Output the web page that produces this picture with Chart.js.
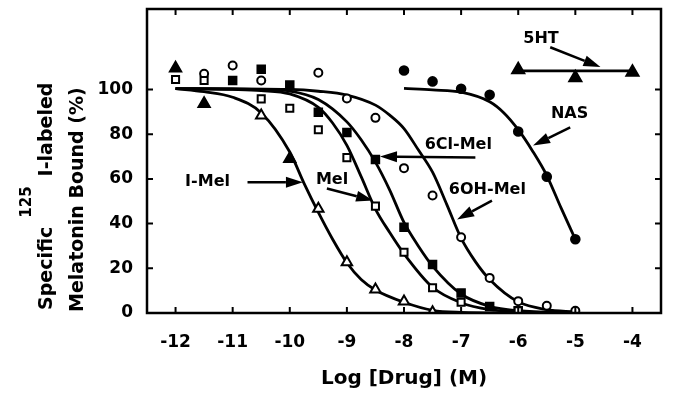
<!DOCTYPE html>
<html>
<head>
<meta charset="utf-8">
<script src="https://cdn.jsdelivr.net/npm/chart.js@4.4.0/dist/chart.umd.min.js"></script>
<style>
  html, body { margin: 0; padding: 0; background: #fff; }
  #wrap { width: 674px; height: 398px; }
</style>
</head>
<body>
<div id="wrap"><canvas id="chart"></canvas></div>
<script>
// x ticks (log molar) and y ticks (% bound)
const xTicks = [-12, -11, -10, -9, -8, -7, -6, -5, -4];
const yTicks = [0, 20, 40, 60, 80, 100];

// fitted curves
const iMelCurveX = [-12, -11.5, -11, -10.5, -10, -9.75, -9.5, -9.25, -9, -8.75, -8.5, -8, -7.5, -7, -6];
const iMelCurveY = [100.4, 99, 96.5, 89.5, 72, 58, 45, 33, 22.5, 15, 10.3, 4.8, 1.2, 0.3, 0];
const melCurveX = [-12, -11, -10.5, -10, -9.5, -9.25, -9, -8.75, -8.5, -8.25, -8, -7.5, -7, -6.5, -6, -5];
const melCurveY = [100.4, 100, 99.5, 98, 92, 85, 75, 61, 46.5, 36, 26.5, 11.5, 4.6, 1.5, 0.5, 0];
const clMelCurveX = [-12, -11, -10.5, -10, -9.5, -9, -8.75, -8.5, -8.25, -8, -7.75, -7.5, -7, -6.5, -6, -5];
const clMelCurveY = [100.4, 100.2, 100, 99.3, 95.5, 85.5, 77.5, 67.5, 55, 40.5, 30, 21, 8.5, 3, 1, 0];
const ohMelCurveX = [-12, -10, -9.5, -9, -8.5, -8.25, -8, -7.75, -7.5, -7.25, -7, -6.75, -6.5, -6, -5.5, -5];
const ohMelCurveY = [100.4, 100, 99.2, 97.5, 93, 88.5, 82.5, 73, 63, 48.5, 33.5, 23, 15, 5, 1.5, 0.5];
const nasCurveX = [-8, -7.5, -7, -6.5, -6.25, -6, -5.75, -5.5, -5.25, -5];
const nasCurveY = [100.5, 99.8, 98.8, 94.5, 89.5, 82, 72.5, 61.5, 47, 33];
const htCurveX = [-6, -4];
const htCurveY = [108.3, 108.3];

// measured points
const iMelOpenX = [-10.5, -9.5, -9, -8.5, -8, -7.5];
const iMelOpenY = [88.4, 46.6, 22.7, 10.5, 5.2, 0.3];
const iMelFilledX = [-12, -11.5, -10];
const iMelFilledY = [109.5, 93.6, 69];
const melX = [-12, -11.5, -10.5, -10, -9.5, -9, -8.5, -8, -7.5, -7, -6];
const melY = [104.5, 104, 95.8, 91.6, 82, 69.5, 47.8, 27.2, 11.3, 4.8, 1];
const clMelX = [-11, -10.5, -10, -9.5, -9, -8.5, -8, -7.5, -7, -6.5, -6];
const clMelY = [104, 109, 102, 89.8, 80.7, 68.7, 38.4, 21.7, 8.9, 2.9, 1];
const ohMelX = [-11.5, -11, -10.5, -9.5, -9, -8.5, -8, -7.5, -7, -6.5, -6, -5.5, -5];
const ohMelY = [107, 110.7, 104, 107.5, 96, 87.3, 64.8, 52.6, 33.9, 15.7, 5.3, 3.2, 1];
const nasX = [-8, -7.5, -7, -6.5, -6, -5.5, -5];
const nasY = [108.5, 103.6, 100.3, 97.6, 81.2, 61, 33];
const htX = [-6, -5, -4];
const htY = [108.8, 105.2, 107.7];

// labels with arrows (data units)
const noteText = ['I-Mel', 'Mel', '6Cl-Mel', '6OH-Mel', 'NAS', '5HT'];
const noteX = [-11.44, -9.26, -7.05, -6.54, -5.1, -5.6];
const noteY = [58.8, 59.5, 75.4, 55.2, 89.2, 122.8];
const arrowFromX = [-10.74, -9.35, -6.75, -6.46, -5.09, -5.44];
const arrowFromY = [58.5, 55.7, 69.6, 50.3, 83, 118.9];
const arrowToX = [-9.77, -8.54, -8.42, -7.07, -5.74, -4.56];
const arrowToY = [58.5, 50.3, 70.0, 41.8, 74.9, 110];

const FONT = 'DejaVu Sans';
const pts = (xs, ys) => xs.map((x, i) => ({ x: x, y: ys[i] }));

function marks(label, xs, ys, style, radius, fill) {
  return {
    label: label,
    data: pts(xs, ys),
    showLine: false,
    pointStyle: style,
    pointRadius: radius,
    pointBackgroundColor: fill,
    pointBorderColor: '#000',
    pointBorderWidth: 2,
  };
}

function curve(label, xs, ys) {
  return {
    label: label,
    data: pts(xs, ys),
    showLine: true,
    borderColor: '#000',
    borderWidth: 2.8,
    pointRadius: 0,
    cubicInterpolationMode: 'monotone',
  };
}

// box frame with inward ticks on all sides
const frame = {
  id: 'frame',
  afterDraw(chart) {
    const { ctx, chartArea: a, scales: { x, y } } = chart;
    ctx.save();
    ctx.strokeStyle = '#000';
    ctx.lineWidth = 2.5;
    ctx.strokeRect(a.left, a.top, a.right - a.left, a.bottom - a.top);
    ctx.lineWidth = 2;
    ctx.beginPath();
    x.ticks.forEach(t => {
      const px = x.getPixelForValue(t.value);
      ctx.moveTo(px, a.bottom); ctx.lineTo(px, a.bottom - 6);
      ctx.moveTo(px, a.top); ctx.lineTo(px, a.top + 6);
    });
    y.ticks.forEach(t => {
      const py = y.getPixelForValue(t.value);
      ctx.moveTo(a.left, py); ctx.lineTo(a.left + 6, py);
      ctx.moveTo(a.right, py); ctx.lineTo(a.right - 6, py);
    });
    ctx.stroke();
    ctx.restore();
  }
};

// curve labels and arrows
const notes = {
  id: 'notes',
  afterDraw(chart) {
    const { ctx, scales: { x, y } } = chart;
    ctx.save();
    ctx.fillStyle = '#000';
    ctx.strokeStyle = '#000';
    ctx.font = 'bold 16px "' + FONT + '"';
    ctx.textAlign = 'center';
    ctx.textBaseline = 'middle';
    noteText.forEach((txt, i) => {
      ctx.fillText(txt, x.getPixelForValue(noteX[i]), y.getPixelForValue(noteY[i]));
      const x0 = x.getPixelForValue(arrowFromX[i]), y0 = y.getPixelForValue(arrowFromY[i]);
      const x1 = x.getPixelForValue(arrowToX[i]), y1 = y.getPixelForValue(arrowToY[i]);
      const ang = Math.atan2(y1 - y0, x1 - x0);
      const len = 17, half = 5.5;
      const bx = x1 - len * Math.cos(ang), by = y1 - len * Math.sin(ang);
      ctx.lineWidth = 2.5;
      ctx.beginPath();
      ctx.moveTo(x0, y0);
      ctx.lineTo(bx, by);
      ctx.stroke();
      ctx.beginPath();
      ctx.moveTo(x1, y1);
      ctx.lineTo(bx + half * Math.sin(ang), by - half * Math.cos(ang));
      ctx.lineTo(bx - half * Math.sin(ang), by + half * Math.cos(ang));
      ctx.closePath();
      ctx.fill();
    });
    ctx.restore();
  }
};

// two-line y title with the 125 superscript
const yTitle = {
  id: 'yTitle',
  afterDraw(chart) {
    const { ctx, chartArea: a } = chart;
    ctx.save();
    ctx.fillStyle = '#000';
    ctx.textBaseline = 'alphabetic';
    ctx.textAlign = 'left';
    ctx.translate(0, a.bottom);
    ctx.rotate(-Math.PI / 2);
    const big = 'bold 19px "' + FONT + '"';
    const small = 'bold 15px "' + FONT + '"';
    let u = 3;
    ctx.font = big;
    ctx.fillText('Specific', u, 52);
    u += ctx.measureText('Specific').width + 9;
    ctx.font = small;
    ctx.fillText('125', u, 31);
    u += ctx.measureText('125').width + 10;
    ctx.font = big;
    ctx.fillText('I-labeled', u, 52);
    ctx.fillText('Melatonin Bound (%)', 1, 83);
    ctx.restore();
  }
};

new Chart(document.getElementById('chart'), {
  type: 'scatter',
  data: {
    datasets: [
      marks('I-Mel', iMelOpenX, iMelOpenY, 'triangle', 6, '#fff'),
      marks('I-Mel ', iMelFilledX, iMelFilledY, 'triangle', 6.5, '#000'),
      marks('Mel', melX, melY, 'rect', 5, '#fff'),
      marks('6Cl-Mel', clMelX, clMelY, 'rect', 5.3, '#000'),
      marks('6OH-Mel', ohMelX, ohMelY, 'circle', 4, '#fff'),
      marks('NAS', nasX, nasY, 'circle', 4.3, '#000'),
      marks('5HT', htX, htY, 'triangle', 7, '#000'),
      curve('I-Mel fit', iMelCurveX, iMelCurveY),
      curve('Mel fit', melCurveX, melCurveY),
      curve('6Cl-Mel fit', clMelCurveX, clMelCurveY),
      curve('6OH-Mel fit', ohMelCurveX, ohMelCurveY),
      curve('NAS fit', nasCurveX, nasCurveY),
      curve('5HT fit', htCurveX, htCurveY),
    ],
  },
  options: {
    responsive: true,
    maintainAspectRatio: false,
    animation: false,
    layout: { padding: { top: 9, right: 13, left: 0, bottom: 0 } },
    plugins: {
      legend: { display: false },
      tooltip: { enabled: false },
    },
    scales: {
      x: {
        type: 'linear',
        min: -12.5,
        max: -3.5,
        afterBuildTicks: s => { s.ticks = xTicks.map(v => ({ value: v })); },
        afterFit: s => { s.height = 85; s.paddingLeft = 0; s.paddingRight = 0; },
        grid: { display: false, drawTicks: false },
        border: { display: false },
        ticks: {
          color: '#000',
          padding: 19,
          font: { family: FONT, size: 17, weight: 'bold' },
        },
        title: {
          display: true,
          text: 'Log [Drug] (M)',
          color: '#000',
          padding: { top: 0, bottom: 7 },
          font: { family: FONT, size: 20, weight: 'bold' },
        },
      },
      y: {
        type: 'linear',
        min: 0,
        max: 136,
        afterBuildTicks: s => { s.ticks = yTicks.map(v => ({ value: v })); },
        afterFit: s => { s.width = 147; s.paddingTop = 0; s.paddingBottom = 0; },
        grid: { display: false, drawTicks: false },
        border: { display: false },
        ticks: {
          color: '#000',
          padding: 14,
          font: { family: FONT, size: 17, weight: 'bold' },
        },
      },
    },
  },
  plugins: [frame, notes, yTitle],
});
</script>
</body>
</html>
